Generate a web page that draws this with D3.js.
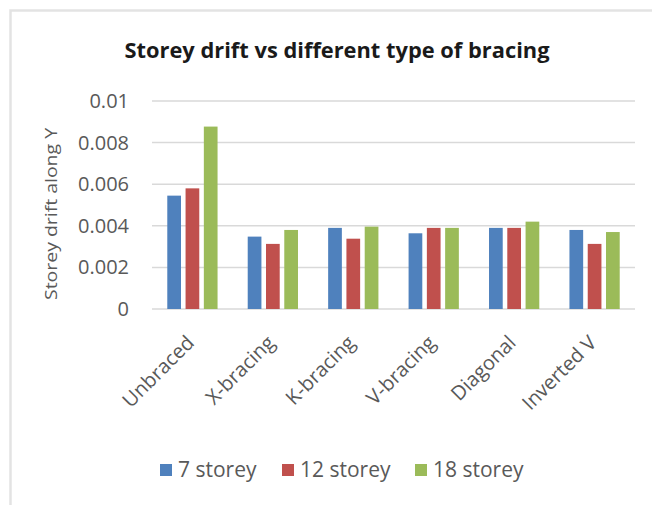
<!DOCTYPE html>
<html lang="en">
<head>
<meta charset="UTF-8">
<title>Storey drift vs different type of bracing</title>
<script src="https://d3js.org/d3.v7.min.js"></script>
<style>
  body { margin: 0; background: #fff; font-family: "Open Sans", Arial, sans-serif; }
  .grid line { stroke: #d9d9d9; stroke-width: 1.5; }
  .tick text { fill: #595959; }
</style>
</head>
<body>
<div id="chart"></div>
<script>
// chart data
const categories = ["Unbraced", "X-bracing", "K-bracing", "V-bracing", "Diagonal", "Inverted V"];
const seriesNames = ["7 storey", "12 storey", "18 storey"];
const storey7  = [0.00545, 0.00348, 0.0039, 0.00364, 0.0039, 0.0038];
const storey12 = [0.0058, 0.00313, 0.00338, 0.0039, 0.0039, 0.00313];
const storey18 = [0.00877, 0.0038, 0.00396, 0.0039, 0.0042, 0.0037];
const yTicks = [0, 0.002, 0.004, 0.006, 0.008, 0.01];
const colors = ["#4f81bd", "#c0504d", "#9bbb59"];

const W = 652, H = 505;
const margin = {top: 101, right: 17, bottom: 196, left: 152};
const width = W - margin.left - margin.right,
      height = H - margin.top - margin.bottom;

const svg = d3.select("#chart").append("svg")
    .attr("width", W).attr("height", H);

// outer chart border (only top & left visible)
svg.append("rect")
    .attr("x", 10.5).attr("y", 10.5)
    .attr("width", W + 20).attr("height", H + 20)
    .attr("fill", "none").attr("stroke", "#e3e3e3").attr("stroke-width", 2.5);

svg.append("text")
    .attr("x", 337).attr("y", 58)
    .attr("text-anchor", "middle")
    .attr("font-size", 21).attr("font-weight", "bold")
    .attr("fill", "#1a1a1a")
    .attr("textLength", 425).attr("lengthAdjust", "spacingAndGlyphs")
    .text("Storey drift vs different type of bracing");

const g = svg.append("g").attr("transform", `translate(${margin.left},${margin.top})`);

const x0 = d3.scaleBand().domain(categories).range([0, width]).paddingInner(0.375).paddingOuter(0.19);
const x1 = d3.scaleBand().domain(seriesNames).range([0, x0.bandwidth()]).paddingInner(0.25);
const y = d3.scaleLinear().domain([0, 0.01]).range([height, 0]);

// gridlines
g.append("g").attr("class", "grid")
  .selectAll("line").data(yTicks).join("line")
    .attr("x1", 0).attr("x2", width)
    .attr("y1", d => y(d)).attr("y2", d => y(d));

// y axis labels
const yAxis = g.append("g")
    .call(d3.axisLeft(y).tickValues(yTicks).tickFormat(d => d === 0 ? "0" : String(+d.toFixed(3))).tickSize(0).tickPadding(23));
yAxis.select(".domain").remove();
yAxis.selectAll("text").attr("font-size", 20).attr("font-family", "'Open Sans', Arial, sans-serif");

// bars
const rows = categories.map((c, i) => ({cat: c, vals: [storey7[i], storey12[i], storey18[i]]}));
g.append("g").selectAll("g").data(rows).join("g")
    .attr("transform", d => `translate(${x0(d.cat)},0)`)
  .selectAll("rect").data(d => d.vals.map((v, j) => ({s: seriesNames[j], v, j}))).join("rect")
    .attr("x", d => x1(d.s))
    .attr("width", x1.bandwidth())
    .attr("y", d => y(d.v))
    .attr("height", d => height - y(d.v))
    .attr("fill", d => colors[d.j]);

// x axis labels, rotated
const xAxis = g.append("g").attr("transform", `translate(0,${height})`)
    .call(d3.axisBottom(x0).tickSize(0).tickPadding(0));
xAxis.select(".domain").remove();
xAxis.selectAll("text")
    .attr("font-size", 20).attr("font-family", "'Open Sans', Arial, sans-serif")
    .attr("text-anchor", "end")
    .attr("dy", 0)
    .attr("transform", "translate(3,35) rotate(-45)");

// y axis title
svg.append("text")
    .attr("transform", "translate(57,214) rotate(-90)")
    .attr("text-anchor", "middle")
    .attr("font-size", 16)
    .attr("fill", "#595959")
    .attr("textLength", 172).attr("lengthAdjust", "spacingAndGlyphs")
    .text("Storey drift along Y");

// legend
const legendX = [160, 282, 415];
const legend = svg.append("g").selectAll("g").data(seriesNames).join("g")
    .attr("transform", (d, i) => `translate(${legendX[i]},470)`);
legend.append("rect").attr("x", 0).attr("y", -6).attr("width", 12).attr("height", 12)
    .attr("fill", (d, i) => colors[i]);
legend.append("text").attr("x", 18).attr("y", 0).attr("dy", "0.35em")
    .attr("font-size", 21).attr("fill", "#595959").text(d => d);
</script>
</body>
</html>
